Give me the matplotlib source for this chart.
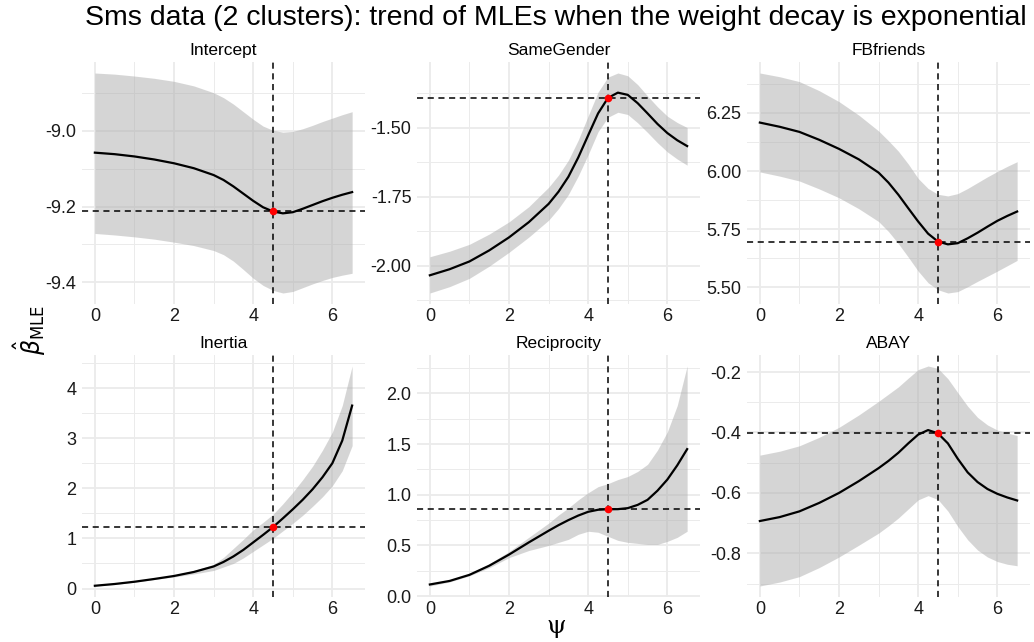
import numpy as np
import matplotlib
matplotlib.use('Agg')
import matplotlib.pyplot as plt
from matplotlib.ticker import MultipleLocator, FormatStrFormatter

plt.rcParams['font.family'] = ['Liberation Sans', 'DejaVu Sans']
plt.rcParams['axes.unicode_minus'] = False

# psi grid and selected value
psi = [0, 0.5, 1, 1.5, 2, 2.5, 3, 3.25, 3.5, 3.75, 4, 4.25, 4.5, 4.75, 5, 5.25, 5.5, 5.75, 6, 6.25, 6.5]
psi_star = 4.5

panels = ['Intercept', 'SameGender', 'FBfriends', 'Inertia', 'Reciprocity', 'ABAY']

intercept_fit = [-9.058, -9.062, -9.068, -9.076, -9.086, -9.099, -9.117, -9.130, -9.147, -9.166, -9.185,
                 -9.202, -9.213, -9.218, -9.215, -9.206, -9.196, -9.186, -9.177, -9.169, -9.162]
intercept_up = [-8.848, -8.851, -8.856, -8.862, -8.870, -8.882, -8.900, -8.913, -8.930, -8.950, -8.970,
                -8.988, -8.999, -9.004, -9.002, -8.995, -8.986, -8.976, -8.967, -8.958, -8.950]
intercept_lo = [-9.271, -9.275, -9.280, -9.286, -9.294, -9.303, -9.316, -9.327, -9.344, -9.366, -9.389,
                -9.408, -9.421, -9.428, -9.424, -9.414, -9.404, -9.395, -9.387, -9.381, -9.376]

samegender_fit = [-2.034, -2.012, -1.984, -1.944, -1.897, -1.842, -1.776, -1.732, -1.678, -1.608, -1.528,
                  -1.449, -1.393, -1.374, -1.382, -1.412, -1.449, -1.487, -1.520, -1.546, -1.567]
samegender_up = [-1.967, -1.947, -1.922, -1.885, -1.841, -1.786, -1.716, -1.672, -1.618, -1.545, -1.458,
                 -1.372, -1.318, -1.303, -1.313, -1.345, -1.386, -1.425, -1.459, -1.482, -1.500]
samegender_lo = [-2.098, -2.075, -2.045, -2.001, -1.951, -1.896, -1.835, -1.793, -1.742, -1.675, -1.598,
                 -1.515, -1.463, -1.445, -1.453, -1.483, -1.518, -1.555, -1.588, -1.614, -1.636]

fbfriends_fit = [6.208, 6.190, 6.168, 6.134, 6.095, 6.050, 5.993, 5.950, 5.898, 5.840, 5.783,
                 5.731, 5.697, 5.685, 5.690, 5.711, 5.735, 5.761, 5.786, 5.807, 5.826]
fbfriends_up = [6.421, 6.405, 6.384, 6.345, 6.298, 6.240, 6.172, 6.130, 6.085, 6.030, 5.968,
                5.925, 5.900, 5.893, 5.903, 5.925, 5.950, 5.975, 5.998, 6.020, 6.040]
fbfriends_lo = [5.996, 5.978, 5.957, 5.923, 5.885, 5.838, 5.783, 5.740, 5.688, 5.630, 5.570,
                5.520, 5.490, 5.476, 5.482, 5.503, 5.526, 5.548, 5.570, 5.593, 5.616]

inertia_fit = [0.055, 0.09, 0.135, 0.19, 0.25, 0.33, 0.44, 0.53, 0.64, 0.77, 0.92,
               1.07, 1.225, 1.40, 1.58, 1.77, 1.98, 2.22, 2.50, 2.95, 3.65]
inertia_up = [0.06, 0.10, 0.145, 0.20, 0.27, 0.36, 0.48, 0.62, 0.80, 0.98, 1.17,
              1.32, 1.48, 1.69, 1.92, 2.17, 2.44, 2.76, 3.12, 3.65, 4.44]
inertia_lo = [0.05, 0.08, 0.125, 0.18, 0.23, 0.29, 0.36, 0.43, 0.50, 0.61, 0.74,
              0.87, 1.00, 1.15, 1.30, 1.46, 1.64, 1.83, 2.05, 2.35, 2.85]

reciprocity_fit = [0.115, 0.15, 0.21, 0.30, 0.41, 0.53, 0.645, 0.70, 0.75, 0.795, 0.832,
                   0.852, 0.857, 0.858, 0.868, 0.90, 0.95, 1.04, 1.15, 1.29, 1.45]
reciprocity_up = [0.12, 0.16, 0.22, 0.32, 0.44, 0.58, 0.72, 0.80, 0.87, 0.95, 1.02,
                  1.08, 1.11, 1.15, 1.18, 1.23, 1.30, 1.44, 1.62, 1.88, 2.27]
reciprocity_lo = [0.10, 0.14, 0.20, 0.28, 0.38, 0.45, 0.50, 0.53, 0.56, 0.61, 0.64,
                  0.63, 0.59, 0.55, 0.53, 0.52, 0.51, 0.51, 0.54, 0.58, 0.64]

abay_fit = [-0.693, -0.680, -0.661, -0.633, -0.600, -0.561, -0.518, -0.494, -0.467, -0.436, -0.407,
            -0.392, -0.403, -0.436, -0.487, -0.532, -0.564, -0.587, -0.603, -0.615, -0.625]
abay_up = [-0.475, -0.462, -0.444, -0.416, -0.383, -0.342, -0.297, -0.273, -0.249, -0.220, -0.192,
           -0.180, -0.188, -0.222, -0.268, -0.313, -0.350, -0.375, -0.392, -0.402, -0.410]
abay_lo = [-0.908, -0.895, -0.877, -0.847, -0.812, -0.773, -0.733, -0.709, -0.683, -0.653, -0.623,
           -0.609, -0.622, -0.660, -0.711, -0.755, -0.789, -0.812, -0.827, -0.836, -0.841]

fits = [intercept_fit, samegender_fit, fbfriends_fit, inertia_fit, reciprocity_fit, abay_fit]
ups = [intercept_up, samegender_up, fbfriends_up, inertia_up, reciprocity_up, abay_up]
los = [intercept_lo, samegender_lo, fbfriends_lo, inertia_lo, reciprocity_lo, abay_lo]

y_major = [0.2, 0.25, 0.25, 1, 0.5, 0.2]
y_fmt = ['%.1f', '%.2f', '%.2f', '%d', '%.1f', '%.1f']

W, H = 1034, 642
fig = plt.figure(figsize=(W / 100, H / 100), dpi=100)

col_left = [82, 417, 747]
row_top = [62, 355]
pw, ph = 283, 242

x = np.array(psi)
for i, name in enumerate(panels):
    r, c = divmod(i, 3)
    ax = fig.add_axes([col_left[c] / W, 1 - (row_top[r] + ph) / H, pw / W, ph / H])
    fit = np.array(fits[i])
    up = np.array(ups[i])
    lo = np.array(los[i])
    y_star = fit[psi.index(psi_star)]

    ax.fill_between(x, lo, up, color='#ADADAD', alpha=0.5, lw=0, zorder=2)
    ax.plot(x, fit, color='black', lw=1.6, zorder=3, solid_joinstyle='round')
    ax.axvline(psi_star, color='black', lw=1.1, ls=(0, (4, 3)), zorder=4)
    ax.axhline(y_star, color='black', lw=1.1, ls=(0, (4, 3)), zorder=4)
    ax.plot([psi_star], [y_star], 'o', color='red', ms=5.5, mec='none', zorder=5)

    xr = x.max() - x.min()
    ax.set_xlim(x.min() - 0.05 * xr, x.max() + 0.05 * xr)
    ymin, ymax = lo.min(), up.max()
    yr = ymax - ymin
    ax.set_ylim(ymin - 0.05 * yr, ymax + 0.05 * yr)

    ax.xaxis.set_major_locator(MultipleLocator(2))
    ax.xaxis.set_minor_locator(MultipleLocator(1))
    ax.yaxis.set_major_locator(MultipleLocator(y_major[i]))
    ax.yaxis.set_minor_locator(MultipleLocator(y_major[i] / 2))
    ax.yaxis.set_major_formatter(FormatStrFormatter(y_fmt[i]))

    ax.grid(which='major', color='#EBEBEB', lw=1.3, zorder=0)
    ax.grid(which='minor', color='#EBEBEB', lw=0.7, zorder=0)
    ax.set_axisbelow(True)
    for s in ax.spines.values():
        s.set_visible(False)
    ax.tick_params(which='both', length=0, labelsize=13, labelcolor='#1a1a1a')
    ax.tick_params(axis='y', pad=4)
    ax.tick_params(axis='x', pad=3)
    ax.set_title(name, fontsize=12.5, pad=5)

fig.text(556 / W, 1 - 18 / H, 'Sms data (2 clusters): trend of MLEs when the weight decay is exponential',
         ha='center', va='center', fontsize=20.5)
fig.text(556 / W, 1 - 626 / H, '\u03c8', ha='center', va='center', fontsize=18, family='DejaVu Serif')
fig.text(30 / W, 1 - 330 / H, r'$\hat{\beta}_{\mathrm{MLE}}$', ha='center', va='center',
         rotation=90, fontsize=17)

fig.savefig('out.png', dpi=100)
